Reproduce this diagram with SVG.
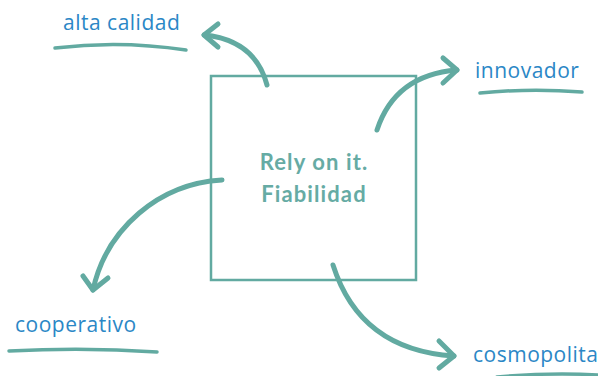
<svg xmlns="http://www.w3.org/2000/svg" width="598" height="376" viewBox="0 0 598 376">
<style>
.arr{fill:none;stroke:#62aaa1;stroke-width:5;stroke-linecap:round;stroke-linejoin:round}
.ul{fill:none;stroke:#62aaa1;stroke-width:3.5;stroke-linecap:round}
.lbl{font-family:"Open Sans","DejaVu Sans",sans-serif;font-size:21px;letter-spacing:0.5px;fill:#2b87c6}
.ctr{font-family:Lato,"Liberation Sans",sans-serif;font-weight:bold;font-size:22px;letter-spacing:1.1px;fill:#66aba4;text-anchor:middle}
</style>
<rect width="598" height="376" fill="#ffffff"/>
<g id="center">
<rect x="211" y="76" width="205" height="204" fill="none" stroke="#62aaa1" stroke-width="2.5"/>
<text class="ctr" x="314" y="170">Rely on it.</text>
<text class="ctr" x="314" y="202">Fiabilidad</text>
</g>
<g id="alta-calidad">
<text class="lbl" x="63" y="30">alta calidad</text>
<path class="ul" d="M55,48 Q120,40 186,50"/>
</g>
<g id="innovador">
<text class="lbl" x="475" y="78">innovador</text>
<path class="ul" d="M480,93 Q530,88 582,92"/>
</g>
<g id="cooperativo">
<text class="lbl" x="15" y="332">cooperativo</text>
<path class="ul" d="M9,351 Q85,347 157,352"/>
</g>
<g id="cosmopolita">
<text class="lbl" x="473" y="362">cosmopolita</text>
<path class="ul" d="M497,377 Q550,372 600,375"/>
</g>
<g id="connectors">
<path class="arr" d="M267,85 Q255,40 204,35"/>
<path class="arr" d="M218,24 L204,35 L218,47"/>
<path class="arr" d="M377,130 Q395,75 457,70"/>
<path class="arr" d="M443,58 L457,70 L443,83"/>
<path class="arr" d="M222,180 A140,140 0 0 0 93,290"/>
<path class="arr" d="M83,276 L93,290 L108,278"/>
<path class="arr" d="M333,265 Q360,350 454,356"/>
<path class="arr" d="M439,341 L454,356 L439,368"/>
</g>
</svg>
